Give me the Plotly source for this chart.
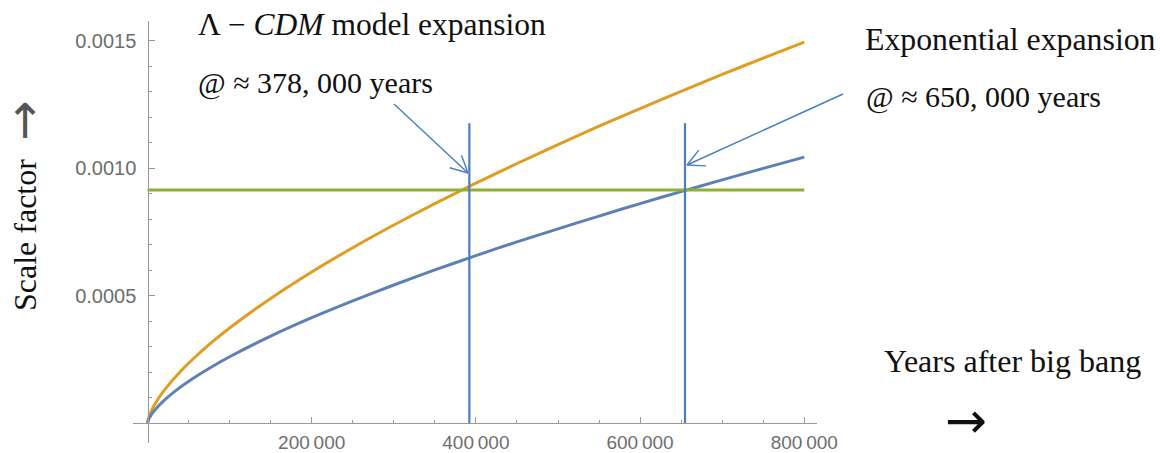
import math
import plotly.graph_objects as go

# ---- data ----
years = [0, 1000, 2000, 5000, 10000, 20000, 40000, 60000, 80000, 100000, 150000,
         200000, 250000, 300000, 350000, 400000, 450000, 500000, 550000, 600000,
         650000, 700000, 750000, 800000]
lcdm_scale = [0, 0.0000173, 0.0000275, 0.0000507, 0.0000805, 0.0001277, 0.0002028,
              0.0002656, 0.0003218, 0.0003735, 0.0004894, 0.000593, 0.000688, 0.000777,
              0.000861, 0.000941, 0.001018, 0.001092, 0.001164, 0.001233, 0.001301,
              0.001367, 0.001431, 0.001494]
expo_scale = [0, 0.0000121, 0.0000192, 0.0000354, 0.0000562, 0.0000892, 0.0001416,
              0.0001854, 0.0002247, 0.0002608, 0.0003417, 0.000414, 0.00048, 0.000542,
              0.000601, 0.000657, 0.000711, 0.000762, 0.000812, 0.000861, 0.000908,
              0.000954, 0.000999, 0.001043]
threshold_years = [0, 800000]
threshold_level = [0.000914, 0.000914]
marker_years = [392000, 654700]
marker_span = [0, 0.001176]

x_tickvals = [200000, 400000, 600000, 800000]
x_ticktext = ["200\u2009000", "400\u2009000", "600\u2009000", "800\u2009000"]
y_tickvals = [0.0005, 0.0010, 0.0015]
y_ticktext = ["0.0005", "0.0010", "0.0015"]

# ---- layout geometry ----
W, H = 1160, 453
ML, MR, MT, MB = 133, 343, 21, 10
PW, PH = W - ML - MR, H - MT - MB
x_range = [-17700, 815500]
y_range = [-0.0000772, 0.0015764]


def px(xp):
    return (xp - ML) / PW


def py(yp):
    return (H - MB - yp) / PH


ORANGE = "#E19C24"
BLUE = "#5E81B5"
GREEN = "#8FB032"
LINEBLUE = "#4A7EC0"
AXIS = "#9A9A9A"

fig = go.Figure()
fig.add_trace(go.Scatter(x=years, y=lcdm_scale, mode="lines",
                         line=dict(color=ORANGE, width=3, shape="spline", smoothing=0.6)))
fig.add_trace(go.Scatter(x=years, y=expo_scale, mode="lines",
                         line=dict(color=BLUE, width=3, shape="spline", smoothing=0.6)))
fig.add_trace(go.Scatter(x=threshold_years, y=threshold_level, mode="lines",
                         line=dict(color=GREEN, width=3)))
for xm in marker_years:
    fig.add_trace(go.Scatter(x=[xm, xm], y=marker_span, mode="lines",
                             line=dict(color=LINEBLUE, width=2.2)))

# ---- annotation arrows (open V heads) ----
shapes = []


def arrow(x0, y0, x1, y1, length=19, ang=27):
    shapes.append(dict(type="line", xref="paper", yref="paper",
                       x0=px(x0), y0=py(y0), x1=px(x1), y1=py(y1),
                       line=dict(color=LINEBLUE, width=1.4)))
    a = math.atan2(y0 - y1, x0 - x1)
    for s in (-1, 1):
        b = a + s * math.radians(ang)
        hx, hy = x1 + length * math.cos(b), y1 + length * math.sin(b)
        shapes.append(dict(type="line", xref="paper", yref="paper",
                           x0=px(x1), y0=py(y1), x1=px(hx), y1=py(hy),
                           line=dict(color=LINEBLUE, width=1.4)))


arrow(394, 104, 468, 173)
arrow(843, 94, 687, 165)

SERIF = "Liberation Serif, Times New Roman, serif"
ARROWFONT = "DejaVu Sans, sans-serif"
annots = []


def label(text, xp, yp, size=31, xanchor="left", angle=0, color="#111", family=SERIF):
    annots.append(dict(text=text, xref="paper", yref="paper", x=px(xp), y=py(yp),
                       xanchor=xanchor, yanchor="middle", showarrow=False,
                       textangle=angle, font=dict(family=family, size=size, color=color)))


label("\u039b \u2212 <i>CDM</i> model expansion", 196, 25, size=31.5)
label("@ \u2248 378, 000 years", 196, 83, size=30)
label("Exponential expansion", 863, 40, size=31.8)
label("@ \u2248 650, 000 years", 864, 97, size=30)
label("Years after big bang", 882, 361, size=32)
label("\u2192", 966, 421, size=50, xanchor="center", family=ARROWFONT)
label("Scale factor", 25, 235, size=32, xanchor="center", angle=-90)
label("\u2191", 25, 121, size=48, xanchor="center", color="#555", family=ARROWFONT)

xtickfont = dict(family="Liberation Sans, Arial, sans-serif", size=19, color="#6E6E6E")
ytickfont = dict(family="Liberation Sans, Arial, sans-serif", size=20, color="#6E6E6E")

fig.update_layout(
    width=W, height=H,
    margin=dict(l=ML, r=MR, t=MT, b=MB, autoexpand=False),
    paper_bgcolor="white", plot_bgcolor="white",
    showlegend=False,
    shapes=shapes, annotations=annots,
    xaxis=dict(range=x_range, anchor="free", automargin=False,
               position=(0 - y_range[0]) / (y_range[1] - y_range[0]),
               showgrid=False, zeroline=False, showline=True, linecolor=AXIS, linewidth=1.4,
               ticks="inside", ticklen=6, tickwidth=1, tickcolor=AXIS,
               tickvals=x_tickvals, ticktext=x_ticktext, tickfont=xtickfont,
               ticklabelstandoff=2,
               minor=dict(ticks="inside", dtick=50000, tick0=0, ticklen=3, tickcolor=AXIS)),
    yaxis=dict(range=y_range, anchor="free", automargin=False,
               position=(0 - x_range[0]) / (x_range[1] - x_range[0]),
               showgrid=False, zeroline=False, showline=True, linecolor=AXIS, linewidth=1.4,
               ticks="inside", ticklen=6, tickwidth=1, tickcolor=AXIS,
               tickvals=y_tickvals, ticktext=y_ticktext, tickfont=ytickfont,
               ticklabelstandoff=7,
               minor=dict(ticks="inside", dtick=0.0001, tick0=0, ticklen=3, tickcolor=AXIS)),
)

fig.write_html(
    "out.html",
    config={"displayModeBar": False},
    post_script="document.body.style.margin='0';document.body.style.overflow='hidden';",
)
